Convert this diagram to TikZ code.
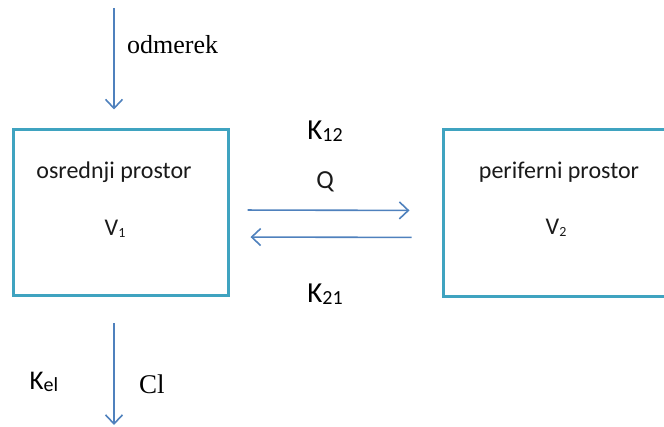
\documentclass[tikz,border=0pt]{standalone}
\usepackage{fontspec}
\setmainfont{Liberation Serif}
\newfontfamily\calib{Carlito}
\usetikzlibrary{arrows.meta}
\definecolor{flowblue}{HTML}{4F81BD}
\definecolor{boxteal}{HTML}{3FA3C0}
\definecolor{ink}{HTML}{1A1A1A}
\tikzset{
  flow/.style={draw=flowblue, line width=1.6pt,
    -{Straight Barb[length=9pt,width=17pt,line width=1.6pt]}},
  compartment/.style={draw=boxteal, line width=3pt, inner sep=0pt},
  sanslabel/.style={font=\calib\fontsize{24}{28}\selectfont, text=ink, inner sep=0pt},
  ratelabel/.style={font=\calib\fontsize{29}{32}\selectfont, text=black, inner sep=0pt},
  seriflabel/.style={font=\fontsize{26}{30}\selectfont, text=black, inner sep=0pt},
}
\newcommand{\rsub}[1]{\raisebox{-2pt}{\fontsize{20}{21}\selectfont #1}}
\newcommand{\vsub}[1]{\raisebox{-2pt}{\fontsize{14}{15}\selectfont #1}}
\begin{document}
\begin{tikzpicture}[x=1pt,y=-1pt]
  \useasboundingbox (0,0) rectangle (664,427);
  % compartments
  \node[compartment, minimum width=215pt, minimum height=166pt] (central) at (120.5,213) {};
  \node[compartment, minimum width=227pt, minimum height=167pt] (peripheral) at (556.5,213.5) {};
  \node[sanslabel] (cname) at (114,172) {osrednji prostor};
  \node[sanslabel] (cvol) at (115,229) {V\vsub{1}};
  \node[sanslabel] (pname) at (559,172) {periferni prostor};
  \node[sanslabel] (pvol) at (556,228) {V\vsub{2}};
  % dose input
  \coordinate (dose) at (114,8);
  \draw[flow, shorten >=19pt] (dose) -- (dose |- central.north);
  \node[seriflabel, anchor=west] (dosetxt) at (127,45) {odmerek};
  % exchange between compartments
  \draw[flow, shorten <=18pt, shorten >=32pt] ([yshift=3pt]central.east) -- ([yshift=3pt]peripheral.west);
  \draw[flow, shorten <=30pt, shorten >=21pt] ([yshift=-24pt]peripheral.west) -- ([yshift=-24pt]central.east);
  \node[ratelabel] (k12) at (325,131) {K\rsub{12}};
  \node[sanslabel, font=\calib\fontsize{26}{28}\selectfont] (q) at (325,182) {Q};
  \node[ratelabel] (k21) at (325,294) {K\rsub{21}};
  % elimination
  \coordinate (elim) at (114,425);
  \draw[flow, shorten <=26pt] (central.south -| elim) -- (elim);
  \node[ratelabel, font=\calib\fontsize{27}{30}\selectfont] (kel) at (44,382) {K\rsub{el}};
  \node[seriflabel, font=\fontsize{27}{30}\selectfont, anchor=west] (cl) at (139,384) {Cl};
\end{tikzpicture}
\end{document}
